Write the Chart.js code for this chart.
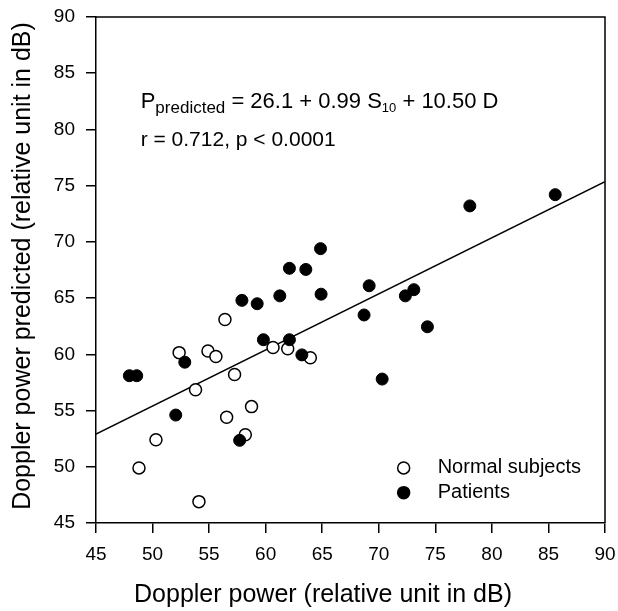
<!DOCTYPE html>
<html>
<head>
<meta charset="utf-8">
<script src="https://cdn.jsdelivr.net/npm/chart.js@4.4.1/dist/chart.umd.min.js"></script>
<style>
  html, body { margin: 0; padding: 0; background: #fff; }
  #wrap { width: 618px; height: 611px; }
</style>
</head>
<body>
<div id="wrap"><canvas id="chart" width="618" height="611"></canvas></div>
<script>
// values
const normalX = [48.8, 50.3, 54.1, 53.8, 52.35, 54.9, 55.6, 56.4, 56.55, 57.25, 58.2, 58.75, 60.65, 61.95, 63.95];
const normalY = [49.9, 52.4, 46.9, 56.85, 60.15, 60.3, 59.8, 63.1, 54.4, 58.2, 52.85, 55.35, 60.6, 60.5, 59.7];

const patientX = [47.95, 48.6, 52.05, 52.85, 57.7, 57.9, 59.25, 59.8, 61.25, 62.1, 62.1, 63.2, 63.55, 64.85, 64.9, 68.7, 69.15, 70.3, 72.35, 73.1, 74.3, 78.05, 85.6];
const patientY = [58.1, 58.1, 54.6, 59.3, 52.35, 64.8, 64.5, 61.3, 65.2, 67.65, 61.3, 59.95, 67.55, 69.4, 65.35, 63.5, 66.1, 57.8, 65.2, 65.75, 62.45, 73.2, 74.2];

const fitX = [45, 90];
const fitY = [52.9, 75.35];

const xTicks = [45, 50, 55, 60, 65, 70, 75, 80, 85, 90];
const yTicks = [45, 50, 55, 60, 65, 70, 75, 80, 85, 90];

const FONT = "'Liberation Sans', Arial, Helvetica, sans-serif";

function pts(xs, ys) {
  return xs.map((x, i) => ({ x, y: ys[i] }));
}

// frame on top/right, axis titles, equation text and legend
const extras = {
  id: 'extras',
  afterDatasetsDraw(chart) {
    const { ctx, chartArea: a, scales: { x, y } } = chart;
    ctx.save();
    ctx.strokeStyle = '#000';
    ctx.lineWidth = 1.5;
    ctx.beginPath();
    ctx.moveTo(a.left, a.top);
    ctx.lineTo(a.right, a.top);
    ctx.lineTo(a.right, a.bottom);
    ctx.stroke();

    ctx.fillStyle = '#000';

    // axis titles
    ctx.font = '25px ' + FONT;
    ctx.textAlign = 'center';
    ctx.textBaseline = 'alphabetic';
    ctx.fillText('Doppler power (relative unit in dB)', 323, 602);
    ctx.save();
    ctx.translate(30, (a.top + a.bottom) / 2 - 4);
    ctx.rotate(-Math.PI / 2);
    ctx.fillText('Doppler power predicted (relative unit in dB)', 0, 0);
    ctx.restore();

    // equation
    ctx.textAlign = 'left';
    const x0 = x.getPixelForValue(48.95);
    let px = x0;
    const py = 108;
    const parts = [
      ['P', '22px ', 0], ['predicted', '17px ', 5], [' = 26.1 + 0.99 S', '22px ', 0],
      ['10', '13px ', 4], [' + 10.50 D', '22px ', 0]
    ];
    parts.forEach(([t, f, dy]) => {
      ctx.font = f + FONT;
      ctx.fillText(t, px, py + dy);
      px += ctx.measureText(t).width;
    });
    ctx.font = '21px ' + FONT;
    ctx.fillText('r = 0.712, p < 0.0001', x0, 146);

    // legend
    const lx = x.getPixelForValue(72.2);
    const items = [['Normal subjects', false, 49.9], ['Patients', true, 47.7]];
    ctx.font = '20px ' + FONT;
    ctx.textBaseline = 'middle';
    items.forEach(([label, filled, v]) => {
      const ly = y.getPixelForValue(v);
      ctx.beginPath();
      ctx.arc(lx, ly, 6, 0, Math.PI * 2);
      ctx.fillStyle = filled ? '#000' : '#fff';
      ctx.fill();
      ctx.lineWidth = 1.5;
      ctx.stroke();
      ctx.fillStyle = '#000';
      ctx.fillText(label, lx + 34, ly);
    });
    ctx.restore();
  }
};

const axisCommon = {
  type: 'linear',
  min: 45,
  max: 90,
  grid: { display: true, drawOnChartArea: false, drawTicks: true, tickLength: 10, color: '#000', lineWidth: 1.5 },
  border: { display: true, color: '#000', width: 1.5 },
};

new Chart(document.getElementById('chart'), {
  type: 'scatter',
  data: {
    datasets: [
      {
        label: 'Patients',
        data: pts(patientX, patientY),
        backgroundColor: '#000',
        borderColor: '#000',
        pointRadius: 6,
        pointBorderWidth: 1,
        order: 1
      },
      {
        label: 'Normal subjects',
        data: pts(normalX, normalY),
        backgroundColor: '#fff',
        borderColor: '#000',
        pointRadius: 6,
        pointBorderWidth: 1.5,
        order: 2
      },
      {
        label: 'fit',
        data: pts(fitX, fitY),
        showLine: true,
        borderColor: '#000',
        borderWidth: 1.5,
        pointRadius: 0,
        order: 3
      }
    ]
  },
  options: {
    responsive: false,
    animation: false,
    layout: { padding: { left: 0, right: 13, top: 17, bottom: 0 } },
    plugins: { legend: { display: false }, tooltip: { enabled: false } },
    scales: {
      x: {
        ...axisCommon,
        afterBuildTicks: s => { s.ticks = xTicks.map(v => ({ value: v })); },
        afterFit: s => { s.height = 88; s.paddingLeft = 0; s.paddingRight = 0; },
        ticks: { color: '#000', font: { family: FONT, size: 19 }, padding: 10, maxRotation: 0 }
      },
      y: {
        ...axisCommon,
        afterBuildTicks: s => { s.ticks = yTicks.map(v => ({ value: v })); },
        afterFit: s => { s.width = 96; s.paddingTop = 0; s.paddingBottom = 0; },
        ticks: { color: '#000', font: { family: FONT, size: 19 }, padding: 11 }
      }
    }
  },
  plugins: [extras]
});
</script>
</body>
</html>
